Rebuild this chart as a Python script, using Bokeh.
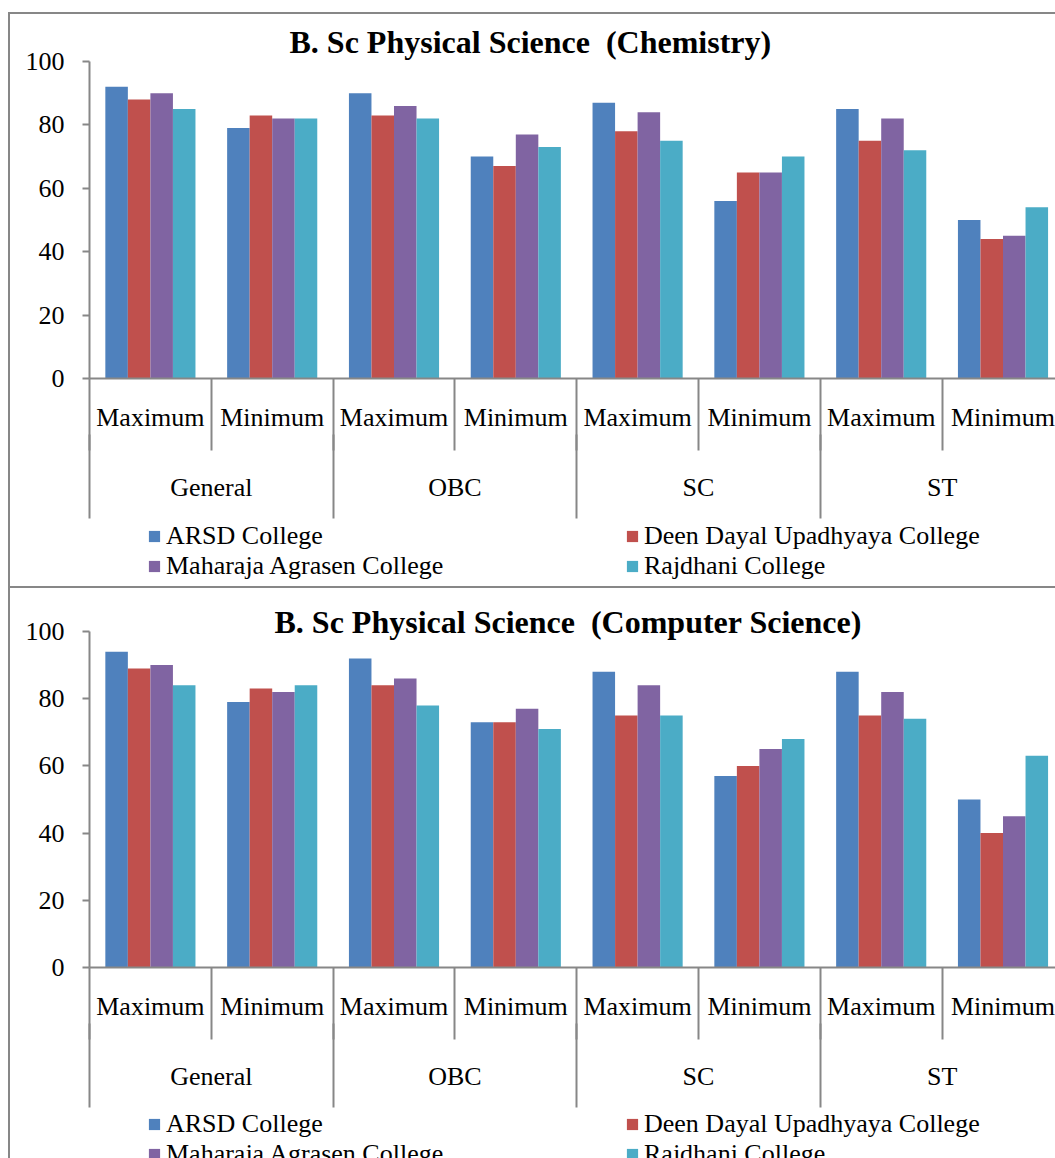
from bokeh.plotting import figure
from bokeh.models import (Range1d, LinearAxis, FixedTicker, Legend, LegendItem,
                          Title, ColumnDataSource)
from bokeh.layouts import column
from bokeh.transform import dodge
from bokeh.embed import file_html
from bokeh.resources import INLINE

# ---------------- data ----------------
groups = ["General", "OBC", "SC", "ST"]
levels = ["Maximum", "Minimum"]
colleges = ["ARSD College", "Deen Dayal Upadhyaya College",
            "Maharaja Agrasen College", "Rajdhani College"]
colors = ["#4F81BD", "#C0504D", "#8064A2", "#4BACC6"]
y_ticks = [0, 20, 40, 60, 80, 100]

title_chem = "B. Sc Physical Science \u00a0(Chemistry)"
chem_arsd = [92, 79, 90, 70, 87, 56, 85, 50]
chem_ddu = [88, 83, 83, 67, 78, 65, 75, 44]
chem_mac = [90, 82, 86, 77, 84, 65, 82, 45]
chem_raj = [85, 82, 82, 73, 75, 70, 72, 54]

title_cs = "B. Sc Physical Science \u00a0(Computer Science)"
cs_arsd = [94, 79, 92, 73, 88, 57, 88, 50]
cs_ddu = [89, 83, 84, 73, 75, 60, 75, 40]
cs_mac = [90, 82, 86, 77, 84, 65, 82, 45]
cs_raj = [84, 84, 78, 71, 75, 68, 74, 63]

FONT = "Liberation Serif"
GRAY = "#878787"
BAR_W = 0.185
LINE = "linear-gradient(#878787,#878787)"


def make_chart(title, series, height, top, bottom, title_offset, title_standoff, bg):
    n = len(groups) * len(levels)
    pos = [i + 0.5 for i in range(n)]
    p = figure(width=1055, height=height, x_range=Range1d(0, 7.931),
               y_range=Range1d(0, 100), output_backend="svg",
               toolbar_location=None, x_axis_type=None, y_axis_type=None,
               min_border_left=89, min_border_right=0,
               min_border_top=top, min_border_bottom=bottom)
    p.grid.visible = False
    p.outline_line_color = None
    p.border_fill_color = None
    p.background_fill_color = None
    p.styles = {"background": bg}

    data = {"x": pos}
    for k, s in enumerate(series):
        data["s%d" % k] = s
    src = ColumnDataSource(data)

    for k in range(len(series)):
        off = (k - (len(series) - 1) / 2) * BAR_W
        p.vbar(x=dodge("x", off, range=p.x_range), top="s%d" % k,
               width=BAR_W, source=src, fill_color=colors[k], line_color=None)

    # y axis
    yax = LinearAxis(ticker=FixedTicker(ticks=y_ticks, minor_ticks=[]))
    yax.axis_line_color = GRAY
    yax.axis_line_width = 2
    yax.major_tick_line_color = GRAY
    yax.major_tick_line_width = 2
    yax.major_tick_out = 7
    yax.major_tick_in = 0
    yax.major_label_standoff = 18
    yax.major_label_text_font = FONT
    yax.major_label_text_font_size = "26px"
    yax.major_label_text_color = "black"
    p.add_layout(yax, "left")

    # inner level axis (Maximum / Minimum)
    ax_a = LinearAxis(ticker=FixedTicker(ticks=pos, minor_ticks=list(range(n + 1))))
    ax_a.major_label_overrides = {pos[i]: levels[i % len(levels)] for i in range(n)}
    ax_a.axis_line_color = GRAY
    ax_a.axis_line_width = 2
    ax_a.major_tick_line_color = None
    ax_a.major_tick_out = 0
    ax_a.major_tick_in = 0
    ax_a.minor_tick_line_color = GRAY
    ax_a.minor_tick_line_width = 2
    ax_a.minor_tick_in = 0
    ax_a.minor_tick_out = 72
    ax_a.major_label_standoff = -48
    ax_a.major_label_text_font = FONT
    ax_a.major_label_text_font_size = "26px"
    ax_a.major_label_text_color = "black"
    p.add_layout(ax_a, "below")

    # outer level axis (General / OBC / SC / ST)
    gpos = [2 * i + 1 for i in range(len(groups))]
    ax_b = LinearAxis(ticker=FixedTicker(ticks=gpos,
                                         minor_ticks=[2 * i for i in range(len(groups) + 1)]))
    ax_b.major_label_overrides = {gpos[i]: groups[i] for i in range(len(groups))}
    ax_b.axis_line_color = None
    ax_b.major_tick_line_color = None
    ax_b.major_tick_out = 0
    ax_b.major_tick_in = 0
    ax_b.minor_tick_line_color = GRAY
    ax_b.minor_tick_line_width = 2
    ax_b.minor_tick_in = 0
    ax_b.minor_tick_out = 84
    ax_b.major_label_standoff = -46
    ax_b.major_label_text_font = FONT
    ax_b.major_label_text_font_size = "26px"
    ax_b.major_label_text_color = "black"
    p.add_layout(ax_b, "below")

    t = Title(text=title, align="left", offset=title_offset, standoff=title_standoff,
              vertical_align="bottom", text_font=FONT, text_font_style="bold",
              text_font_size="32px", text_color="black")
    p.add_layout(t, "above")
    return p


def make_legend(height, vy, bg):
    p = figure(width=1055, height=height, x_range=Range1d(0, 1), y_range=Range1d(0, 1),
               output_backend="svg", toolbar_location=None,
               x_axis_type=None, y_axis_type=None,
               min_border_left=0, min_border_right=0, min_border_top=0, min_border_bottom=0)
    p.grid.visible = False
    p.outline_line_color = None
    p.border_fill_color = None
    p.background_fill_color = None
    p.styles = {"background": bg}
    items = []
    for k, name in enumerate(colleges):
        src = ColumnDataSource({"x": [0.5], "top": [0], "name": [name]})
        r = p.vbar(x="x", top="top", width=0.1, source=src,
                   fill_color=colors[k], line_color=None)
        items.append(LegendItem(label=name, renderers=[r], index=0))
    leg = Legend(items=items, orientation="horizontal", ncols=2, location=(58, vy))
    leg.glyph_width = 14
    leg.glyph_height = 14
    leg.label_standoff = 5
    leg.label_width = 459
    leg.spacing = 0
    leg.padding = 0
    leg.margin = 0
    leg.border_line_color = None
    leg.background_fill_color = None
    leg.label_text_font = FONT
    leg.label_text_font_size = "26px"
    leg.label_text_color = "black"
    p.add_layout(leg, "center")
    return p


bg_c1 = (LINE + " 8px 12px / 100% 2px no-repeat, "
         + LINE + " 8px 12px / 2px 100% no-repeat, white")
bg_l1 = (LINE + " 8px 0 / 2px 100% no-repeat, "
         + LINE + " 8px 100% / 100% 2px no-repeat, white")
bg_2 = LINE + " 8px 0 / 2px 100% no-repeat, white"

p1 = make_chart(title_chem, [chem_arsd, chem_ddu, chem_mac, chem_raj],
                520, 61, 142, 200, 4, bg_c1)
l1 = make_legend(68, 7, bg_l1)
p2 = make_chart(title_cs, [cs_arsd, cs_ddu, cs_mac, cs_raj],
                520, 43, 141, 185, -17, bg_2)
l2 = make_legend(50, -11, bg_2)

layout = column(p1, l1, p2, l2, spacing=0)
open("out.html", "w").write(file_html(layout, INLINE))
